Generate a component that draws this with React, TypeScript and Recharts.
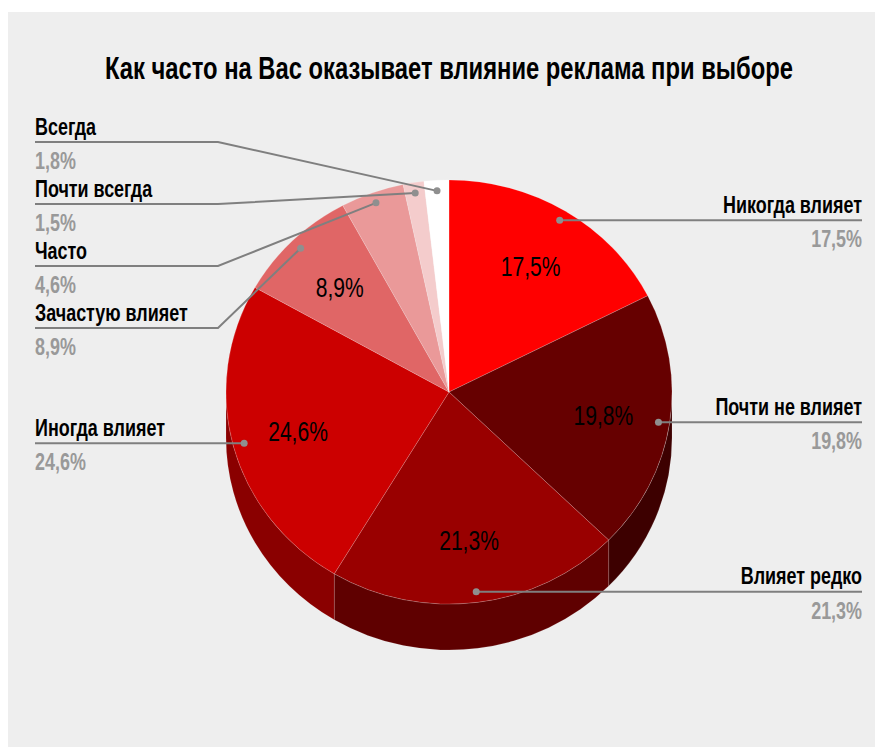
import { Pie, PieChart, Sector } from "recharts";

const categories = ["Никогда влияет", "Почти не влияет", "Влияет редко", "Иногда влияет", "Зачастую влияет", "Часто", "Почти всегда", "Всегда"];
const shares = [17.5, 19.8, 21.3, 24.6, 8.9, 4.6, 1.5, 1.8];
const topColors = ["#ff0000", "#660000", "#990000", "#cc0000", "#e06666", "#ea9999", "#f4cccc", "#ffffff"];
const wallColors = ["#990000", "#3d0000", "#5f0000", "#8a0000", "#e06666", "#ea9999", "#f4cccc", "#ffffff"];

// callout rows for the legend-style labels: y of the rule, null means level with the dot
const calloutRows: (number | null)[] = [null, null, null, null, 316, 254, 192, 130];

const WIDTH = 867;
const HEIGHT = 735;
const CX = 441;
const CY = 380;
const RX = 223;
const SQUASH = 0.951;
const DEPTH = 46;
const LEFT_X = 27;
const RIGHT_X = 854;
const ELBOW_X = 210;

const slices = categories.map((name, i) => ({ name, value: shares[i], fill: topColors[i], wall: wallColors[i] }));

const RAD = Math.PI / 180;
const fmt = (v: number) => `${v.toFixed(1).replace(".", ",")}%`;
const onRim = (deg: number, k: number) => ({
  x: CX + RX * k * Math.cos(deg * RAD),
  y: CY - RX * SQUASH * k * Math.sin(deg * RAD),
});

// SVG text squeezed horizontally, the narrow look of the heading and labels
function Narrow({ x, y, size, sx = 0.78, anchor = "start", fill = "#000", bold = true, children }: any) {
  return (
    <text
      transform={`translate(${x} ${y}) scale(${sx} 1)`}
      textAnchor={anchor}
      fontFamily="Liberation Sans, Arial, sans-serif"
      fontWeight={bold ? 700 : 400}
      fontSize={size}
      fill={fill}
    >
      {children}
    </text>
  );
}

function TopSlice(props: any) {
  return (
    <g transform={`translate(0 ${CY * (1 - SQUASH)}) scale(1 ${SQUASH})`}>
      <Sector
        cx={props.cx}
        cy={props.cy}
        innerRadius={0}
        outerRadius={props.outerRadius}
        startAngle={props.startAngle}
        endAngle={props.endAngle}
        fill={props.fill}
        stroke="rgba(255,255,255,0.18)"
        strokeWidth={1}
      />
    </g>
  );
}

// Side of the disc: only the part of a slice that faces down is visible
function WallSlice(props: any) {
  const from = Math.min(props.startAngle, 0);
  const to = Math.max(props.endAngle, -180);
  if (from <= to) return null;
  const a = onRim(from, 1);
  const b = onRim(to, 1);
  const ry = RX * SQUASH;
  const d = `M${a.x} ${a.y}A${RX} ${ry} 0 0 1 ${b.x} ${b.y}L${b.x} ${b.y + DEPTH}A${RX} ${ry} 0 0 0 ${a.x} ${a.y + DEPTH}Z`;
  return <path d={d} fill={props.payload.wall} stroke="rgba(255,255,255,0.12)" strokeWidth={1} />;
}

function SliceLabel(props: any) {
  const { midAngle, value, name, index } = props;
  const inner = onRim(midAngle, 0.7);
  const dot = onRim(midAngle, 0.95);
  const onLeft = dot.x < CX;
  const row = calloutRows[index];
  const ruleY = row ?? dot.y;
  const edgeX = onLeft ? LEFT_X : RIGHT_X;
  const points = row === null
    ? `${edgeX},${ruleY} ${dot.x},${dot.y}`
    : `${edgeX},${ruleY} ${ELBOW_X},${ruleY} ${dot.x},${dot.y}`;
  const anchor = onLeft ? "start" : "end";
  return (
    <g>
      {value >= 8 && (
        <Narrow x={inner.x} y={inner.y + 11} size={27} anchor="middle" bold={false}>
          {fmt(value)}
        </Narrow>
      )}
      <polyline points={points} fill="none" stroke="#7f7f7f" strokeWidth={2} />
      <circle cx={dot.x} cy={dot.y} r={3.5} fill="#8f8f8f" />
      <Narrow x={edgeX} y={ruleY - 7.5} size={23} anchor={anchor}>{name}</Narrow>
      <Narrow x={edgeX} y={ruleY + 27} size={23} anchor={anchor} fill="#999999">{fmt(value)}</Narrow>
    </g>
  );
}

export default function App() {
  return (
    <div style={{ position: "absolute", left: 8, top: 12, width: WIDTH, height: HEIGHT, background: "#eeeeee" }}>
      <PieChart width={WIDTH} height={HEIGHT} margin={{ top: 0, right: 0, bottom: 0, left: 0 }}>
        <Pie
          data={slices}
          dataKey="value"
          cx={CX}
          cy={CY}
          outerRadius={RX}
          startAngle={90}
          endAngle={-270}
          stroke="none"
          shape={WallSlice}
          isAnimationActive={false}
        />
        <Pie
          data={slices}
          dataKey="value"
          cx={CX}
          cy={CY}
          outerRadius={RX}
          startAngle={90}
          endAngle={-270}
          shape={TopSlice}
          label={SliceLabel}
          labelLine={false}
          isAnimationActive={false}
        />
        <Narrow x={441} y={67} size={32} sx={0.743} anchor="middle">
          Как часто на Вас оказывает влияние реклама при выборе
        </Narrow>
      </PieChart>
    </div>
  );
}
